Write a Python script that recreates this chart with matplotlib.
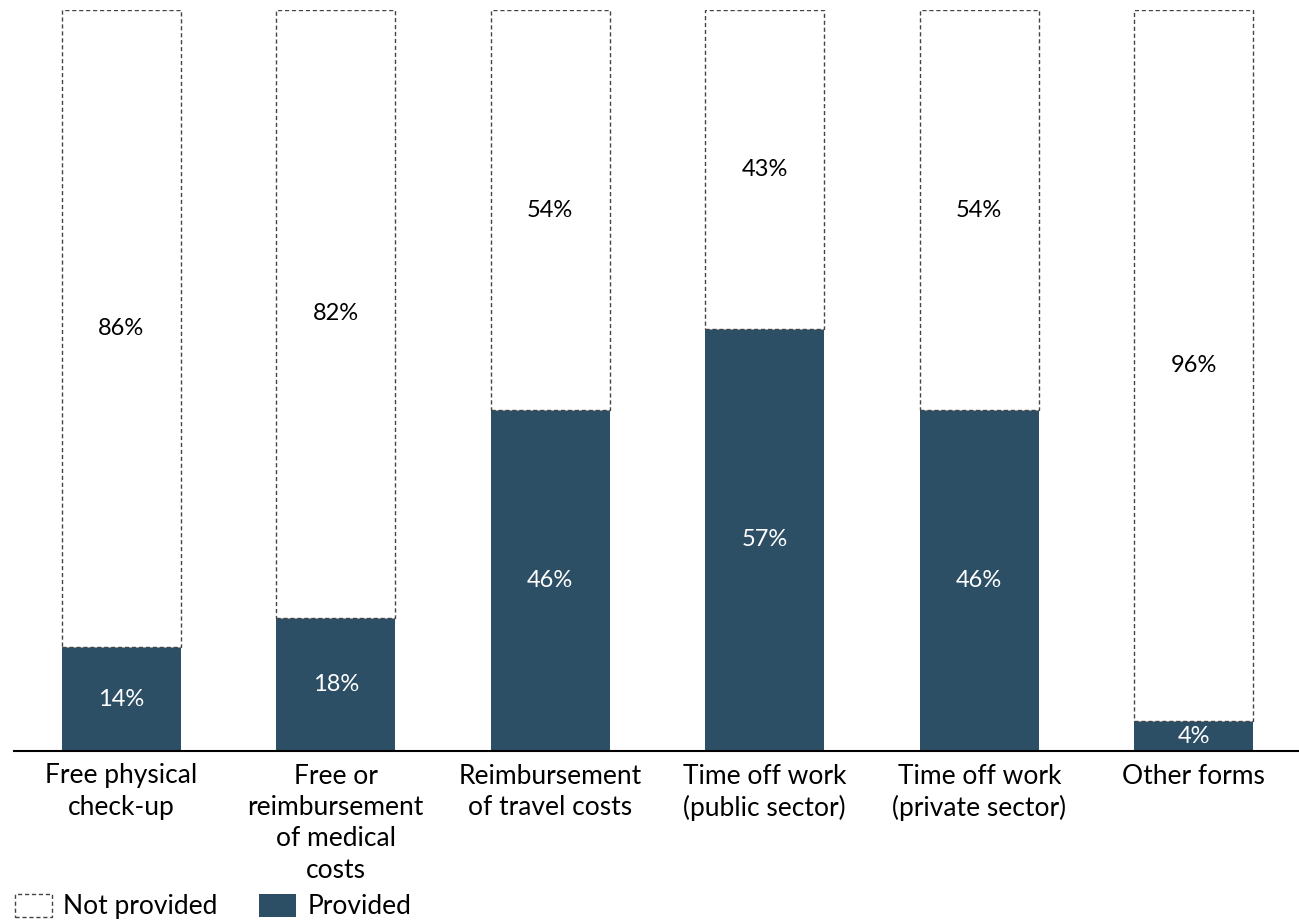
import matplotlib
matplotlib.use("Agg")
import matplotlib.pyplot as plt
from matplotlib.patches import Patch

plt.rcParams['font.family'] = ['Lato', 'DejaVu Sans']

categories = ['Free physical\ncheck-up', 'Free or\nreimbursement\nof medical\ncosts',
              'Reimbursement\nof travel costs', 'Time off work\n(public sector)',
              'Time off work\n(private sector)', 'Other forms']
provided = [14, 18, 46, 57, 46, 4]
not_provided = [86, 82, 54, 43, 54, 96]

dark = '#2C4F65'

fig = plt.figure(figsize=(12.99, 9.22), dpi=100)
ax = fig.add_axes([14/1299, 1-751/922, 1287/1299, 741/922])

x = range(len(categories))
w = 0.555
ax.bar(x, provided, width=w, color=dark, edgecolor='none')
ax.bar(x, not_provided, width=w, bottom=provided, facecolor='white',
       edgecolor='#444444', linestyle=(0, (3, 2)), linewidth=1)

for i in x:
    ax.text(i, provided[i]/2, '%d%%' % provided[i], ha='center', va='center',
            color='white', fontsize=17)
    ax.text(i, provided[i] + not_provided[i]/2, '%d%%' % not_provided[i],
            ha='center', va='center', color='black', fontsize=17)

ax.set_xlim(-0.5, 5.5)
ax.set_ylim(0, 100)
ax.set_xticks(list(x))
ax.set_xticklabels(categories, fontsize=19, linespacing=1.32)
ax.tick_params(axis='x', length=0, pad=9)
ax.set_yticks([])
for s in ['top', 'right', 'left']:
    ax.spines[s].set_visible(False)
ax.spines['bottom'].set_linewidth(1.5)

handles = [Patch(facecolor='white', edgecolor='#444444', linestyle=(0, (3, 2)), linewidth=1, label='Not provided'),
           Patch(facecolor=dark, edgecolor='none', label='Provided')]
fig.legend(handles=handles, loc='lower left', bbox_to_anchor=(12/1299, 0), ncol=2,
           frameon=False, fontsize=19, handlelength=1.4, handleheight=1.0,
           handletextpad=0.45, columnspacing=1.55, borderaxespad=0, borderpad=0.1)

fig.savefig('out.png', dpi=100)
